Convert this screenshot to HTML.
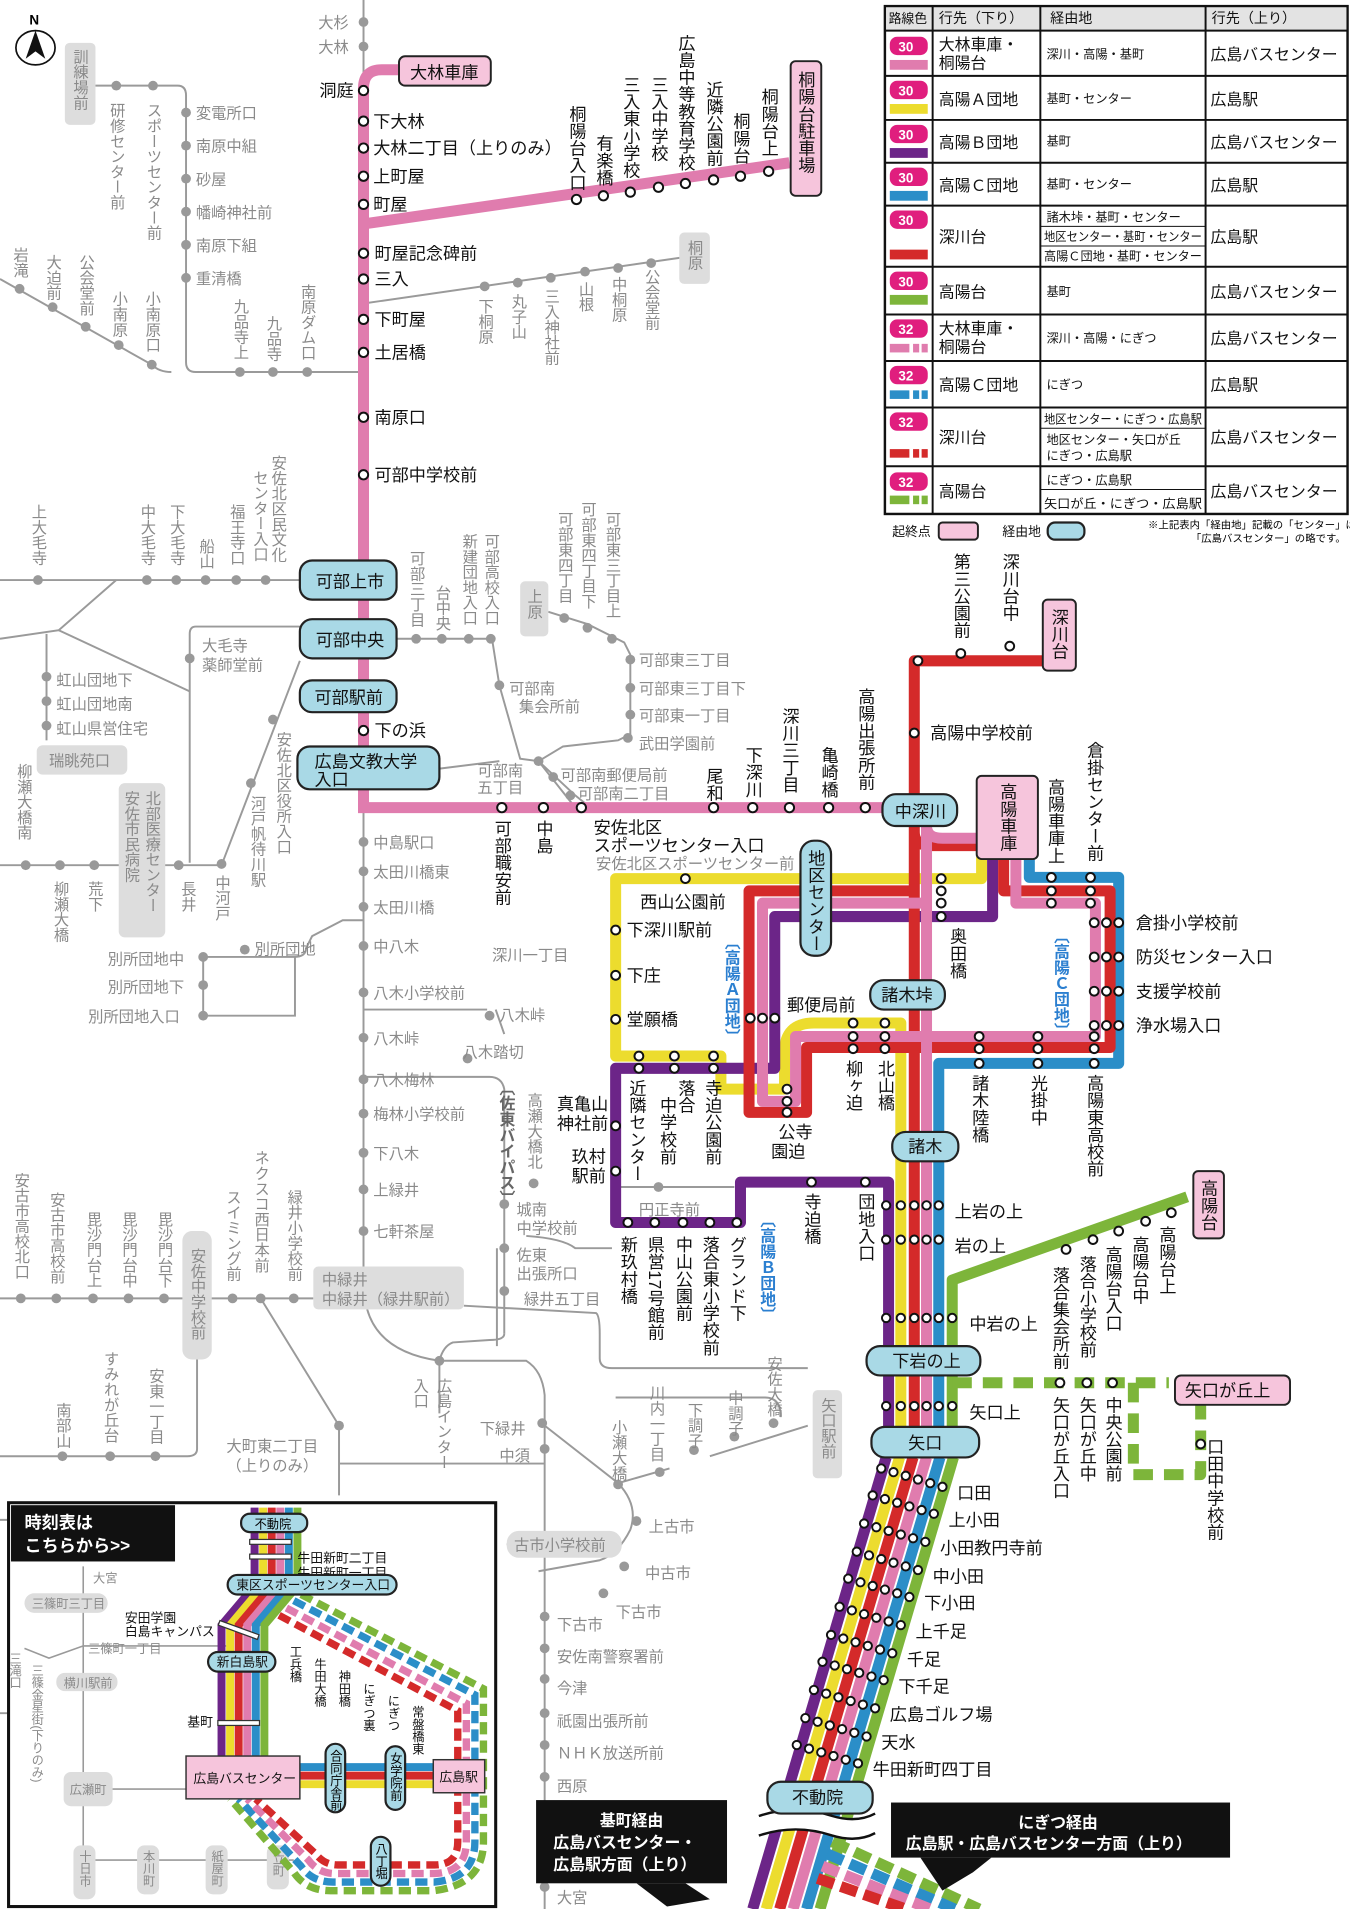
<!DOCTYPE html>
<html><head><meta charset="utf-8">
<style>
html,body{margin:0;padding:0;background:#fff;}
svg{display:block;}
text{font-family:"Liberation Sans","Noto Sans CJK JP",sans-serif;}
.b{font-size:14px;fill:#111;}
.g{font-size:12.5px;fill:#8a8a8a;}
.s{fill:#fff;stroke:#111;stroke-width:1.6;}
.gs{fill:#999;}
.gl{fill:none;stroke:#9a9a9a;stroke-width:1.6;}
.bx{fill:#a9d9e6;stroke:#222;stroke-width:1.8;}
.px{fill:#f6c5dc;stroke:#222;stroke-width:1.6;}
.gx{fill:#ddd;}
.t{font-size:13px;fill:#111;}
.ts{font-size:10.5px;fill:#111;}
.tv{font-size:10px;fill:#111;}
</style></head><body>
<svg width="1350" height="1909" viewBox="0 0 1103 1560" preserveAspectRatio="none" xmlns="http://www.w3.org/2000/svg">
<defs>
<g id="r1"><circle cx="724" cy="0" r="3.4"/><circle cx="736" cy="0" r="3.4"/><circle cx="747" cy="0" r="3.4"/><circle cx="757" cy="0" r="3.4"/><circle cx="767" cy="0" r="3.4"/></g>
<g id="r2"><circle cx="724" cy="0" r="3.4"/><circle cx="736" cy="0" r="3.4"/><circle cx="747" cy="0" r="3.4"/><circle cx="757" cy="0" r="3.4"/><circle cx="767" cy="0" r="3.4"/><circle cx="778" cy="0" r="3.4"/></g>
<g id="r3"><circle cx="0" cy="0" r="3.4"/><circle cx="10" cy="3" r="3.4"/><circle cx="20" cy="6" r="3.4"/><circle cx="30" cy="9" r="3.4"/><circle cx="40" cy="12" r="3.4"/><circle cx="50" cy="15" r="3.4"/></g>
</defs>
<rect width="1103" height="1560" fill="#fff"/>

<!-- North -->
<ellipse cx="29" cy="39" rx="16" ry="14" fill="#fff" stroke="#111" stroke-width="1.4"/>
<path d="M29 25 L37 48 L29 42 L21 48 Z" fill="#111"/>
<text x="24" y="20" style="font-size:11px;font-weight:bold">N</text>

<!-- ======== gray roads ======== -->
<g class="gl">
<path d="M297 0 V60"/>
<path d="M78 70 H145 Q152 70 152 78 V296 Q152 304 160 304 H297"/>
<path d="M0 228 L124 298 Q130 304 140 304"/>
<path d="M297 248 L560 210"/>
<path d="M0 474 H245"/>
<path d="M95 474 L48 515 L0 522"/>
<path d="M48 515 L155 565"/>
<path d="M38 518 V605"/>
<path d="M245 512 H160 Q155 512 155 518 V705"/>
<path d="M0 707 H181 L245 540"/>
<path d="M324 522 H402 L408 560 L425 620 L440 622 L470 660"/>
<path d="M440 622 L460 610 L505 605 L515 600"/>
<path d="M448 500 L480 510 L510 525 L515 535 V605"/>
<path d="M440 622 L470 650 L480 658"/>
<path d="M408 622 L360 628 H297"/>
<path d="M297 660 V1061"/>
<path d="M297 880 H400 Q410 880 412 890 V1090"/>
<path d="M297 825 H398"/>
<path d="M412 845 L405 825"/>
<path d="M166 782 H240 Q250 782 250 775 L255 765 L280 752 H297"/>
<path d="M166 782 V830 H241 V782"/>
<path d="M0 1061 H256"/>
<path d="M161 1111 V1184 Q161 1190 153 1190 H0"/>
<path d="M213 1061 L277 1165 V1222"/>
<path d="M379 1067 L487 1073 Q490 1075 490 1090 V1110 Q490 1118 500 1118 H660"/>
<path d="M412 1090 Q412 1095 400 1095 L370 1097 Q362 1100 359 1112"/>
<path d="M300 1070 Q310 1105 359 1112 L430 1112 Q443 1120 445 1140 V1560"/>
<path d="M359 1112 V1155"/>
<path d="M277 1196 H445"/>
<path d="M445 1165 L505 1212 Q522 1230 515 1250 Q505 1270 490 1275 L440 1284"/>
<path d="M505 1212 L547 1200"/>
<path d="M508 1262 H414"/>
<path d="M580 1190 L660 1165"/>
<path d="M638 1158 Q638 1142 625 1142 H503"/>
<path d="M406 1020 V1100"/>
<path d="M500 970 H600"/>
<path d="M0 1242 H6 M0 1400 H6"/>
<path d="M430 1010 Q460 1012 470 1020 L500 1020"/>
</g>
<g class="gs">
<circle cx="297" cy="18" r="4"/><circle cx="297" cy="38" r="4"/>
<circle cx="95" cy="70" r="4"/><circle cx="125" cy="70" r="4"/>
<circle cx="152" cy="92" r="4"/><circle cx="152" cy="119" r="4"/><circle cx="152" cy="146" r="4"/><circle cx="152" cy="173" r="4"/><circle cx="152" cy="200" r="4"/><circle cx="152" cy="227" r="4"/>
<circle cx="16" cy="236" r="4"/><circle cx="43" cy="251" r="4"/><circle cx="70" cy="267" r="4"/><circle cx="97" cy="282" r="4"/><circle cx="124" cy="298" r="4"/>
<circle cx="196" cy="304" r="4"/><circle cx="223" cy="304" r="4"/><circle cx="251" cy="304" r="4"/>
<circle cx="396" cy="234" r="4"/><circle cx="423" cy="231" r="4"/><circle cx="450" cy="227" r="4"/><circle cx="478" cy="222" r="4"/><circle cx="505" cy="219" r="4"/><circle cx="532" cy="215" r="4"/>
<circle cx="31" cy="474" r="4"/><circle cx="120" cy="474" r="4"/><circle cx="144" cy="474" r="4"/><circle cx="168" cy="474" r="4"/><circle cx="193" cy="474" r="4"/><circle cx="217" cy="474" r="4"/>
<circle cx="38" cy="553" r="4"/><circle cx="38" cy="573" r="4"/><circle cx="38" cy="593" r="4"/>
<circle cx="155" cy="538" r="4"/><circle cx="223" cy="588" r="4"/><circle cx="205" cy="640" r="4"/><circle cx="181" cy="706" r="4"/>
<circle cx="21" cy="707" r="4"/><circle cx="49" cy="707" r="4"/><circle cx="77" cy="707" r="4"/><circle cx="146" cy="707" r="4"/>
<circle cx="340" cy="522" r="4"/><circle cx="361" cy="522" r="4"/><circle cx="383" cy="522" r="4"/><circle cx="401" cy="522" r="4"/>
<circle cx="408" cy="560" r="4"/><circle cx="440" cy="622" r="4"/><circle cx="452" cy="635" r="4"/><circle cx="466" cy="650" r="4"/>
<circle cx="461" cy="505" r="4"/><circle cx="480" cy="513" r="4"/><circle cx="500" cy="522" r="4"/>
<circle cx="515" cy="539" r="4"/><circle cx="515" cy="562" r="4"/><circle cx="515" cy="584" r="4"/><circle cx="513" cy="603" r="4"/>
<circle cx="297" cy="688" r="4"/><circle cx="297" cy="712" r="4"/><circle cx="297" cy="741" r="4"/><circle cx="297" cy="773" r="4"/><circle cx="297" cy="811" r="4"/><circle cx="297" cy="848" r="4"/><circle cx="297" cy="882" r="4"/><circle cx="297" cy="910" r="4"/><circle cx="297" cy="942" r="4"/><circle cx="297" cy="972" r="4"/><circle cx="297" cy="1006" r="4"/>
<circle cx="166" cy="782" r="4"/><circle cx="166" cy="805" r="4"/><circle cx="166" cy="830" r="4"/><circle cx="200" cy="776" r="4"/>
<circle cx="400" cy="830" r="4"/><circle cx="382" cy="865" r="4"/>
<circle cx="412" cy="984" r="4"/><circle cx="412" cy="1020" r="4"/><circle cx="412" cy="1055" r="4"/><circle cx="436" cy="967" r="4"/>
<circle cx="17" cy="1061" r="4"/><circle cx="46" cy="1061" r="4"/><circle cx="76" cy="1061" r="4"/><circle cx="105" cy="1061" r="4"/><circle cx="134" cy="1061" r="4"/><circle cx="190" cy="1061" r="4"/><circle cx="213" cy="1061" r="4"/><circle cx="240" cy="1061" r="4"/>
<circle cx="51" cy="1190" r="4"/><circle cx="90" cy="1190" r="4"/><circle cx="127" cy="1190" r="4"/>
<circle cx="277" cy="1165" r="4"/><circle cx="359" cy="1112" r="4"/>
<circle cx="443" cy="1163" r="4"/><circle cx="445" cy="1184" r="4"/><circle cx="505" cy="1213" r="4"/><circle cx="539" cy="1203" r="4"/>
<circle cx="520" cy="1243" r="4"/><circle cx="510" cy="1280" r="4"/><circle cx="493" cy="1302" r="4"/>
<circle cx="445" cy="1321" r="4"/><circle cx="445" cy="1347" r="4"/><circle cx="445" cy="1372" r="4"/><circle cx="445" cy="1400" r="4"/><circle cx="445" cy="1426" r="4"/><circle cx="445" cy="1452" r="4"/><circle cx="445" cy="1542" r="4"/>
<circle cx="567" cy="1185" r="4"/><circle cx="600" cy="1174" r="4"/><circle cx="632" cy="1163" r="4"/>
<circle cx="538" cy="970" r="4"/>
</g>

<!-- gray labels -->
<g class="g">
<text x="260" y="23">大杉</text><text x="260" y="43">大林</text>
<text x="160" y="97">変電所口</text><text x="160" y="124">南原中組</text><text x="160" y="151">砂屋</text><text x="160" y="178">幡崎神社前</text><text x="160" y="205">南原下組</text><text x="160" y="232">重清橋</text>
<text x="95" y="84" style="writing-mode:vertical-rl">研修センター前</text>
<text x="125" y="84" style="writing-mode:vertical-rl">スポーツセンター前</text>
<text x="16" y="202" style="writing-mode:vertical-rl">岩滝</text>
<text x="43" y="208" style="writing-mode:vertical-rl">大迫前</text>
<text x="70" y="208" style="writing-mode:vertical-rl">公会堂前</text>
<text x="97" y="238" style="writing-mode:vertical-rl">小南原</text>
<text x="124" y="238" style="writing-mode:vertical-rl">小南原口</text>
<text x="196" y="244" style="writing-mode:vertical-rl">九品寺上</text>
<text x="223" y="258" style="writing-mode:vertical-rl">九品寺</text>
<text x="251" y="232" style="writing-mode:vertical-rl">南原ダム口</text>
<text x="396" y="244" style="writing-mode:vertical-rl">下桐原</text>
<text x="423" y="240" style="writing-mode:vertical-rl">丸子山</text>
<text x="450" y="236" style="writing-mode:vertical-rl">三入神社前</text>
<text x="478" y="230" style="writing-mode:vertical-rl">山根</text>
<text x="505" y="226" style="writing-mode:vertical-rl">中桐原</text>
<text x="532" y="220" style="writing-mode:vertical-rl">公会堂前</text>
<text x="31" y="412" style="writing-mode:vertical-rl">上大毛寺</text>
<text x="120" y="412" style="writing-mode:vertical-rl">中大毛寺</text>
<text x="144" y="412" style="writing-mode:vertical-rl">下大毛寺</text>
<text x="168" y="440" style="writing-mode:vertical-rl">船山</text>
<text x="193" y="412" style="writing-mode:vertical-rl">福王寺口</text>
<text x="212" y="384" style="writing-mode:vertical-rl">センター入口</text>
<text x="227" y="372" style="writing-mode:vertical-rl">安佐北区民文化</text>
<text x="340" y="450" style="writing-mode:vertical-rl">可部三丁目</text>
<text x="361" y="478" style="writing-mode:vertical-rl">台中央</text>
<text x="383" y="436" style="writing-mode:vertical-rl">新建団地入口</text>
<text x="401" y="436" style="writing-mode:vertical-rl">可部高校入口</text>
<text x="461" y="418" style="writing-mode:vertical-rl">可部東四丁目</text>
<text x="480" y="410" style="writing-mode:vertical-rl">可部東四丁目下</text>
<text x="500" y="418" style="writing-mode:vertical-rl">可部東三丁目上</text>
<text x="522" y="544">可部東三丁目</text><text x="522" y="567">可部東三丁目下</text><text x="522" y="589">可部東一丁目</text><text x="522" y="612">武田学園前</text>
<text x="416" y="567">可部南</text><text x="424" y="582">集会所前</text>
<text x="390" y="634">可部南</text><text x="390" y="648">五丁目</text>
<text x="458" y="638">可部南郵便局前</text><text x="472" y="653">可部南二丁目</text>
<text x="165" y="532">大毛寺</text><text x="165" y="548">薬師堂前</text>
<text x="46" y="560">虹山団地下</text><text x="46" y="580">虹山団地南</text><text x="46" y="600">虹山県営住宅</text>
<text x="19" y="624" style="writing-mode:vertical-rl">柳瀬大橋南</text>
<text x="49" y="720" style="writing-mode:vertical-rl">柳瀬大橋</text>
<text x="77" y="720" style="writing-mode:vertical-rl">荒下</text>
<text x="153" y="720" style="writing-mode:vertical-rl">長井</text>
<text x="181" y="715" style="writing-mode:vertical-rl">中河戸</text>
<text x="210" y="650" style="writing-mode:vertical-rl">河戸帆待川駅</text>
<text x="231" y="598" style="writing-mode:vertical-rl">安佐北区役所入口</text>
<text x="487" y="710">安佐北区スポーツセンター前</text>
<text x="305" y="693">中島駅口</text><text x="305" y="717">太田川橋東</text><text x="305" y="746">太田川橋</text><text x="305" y="778">中八木</text><text x="305" y="816">八木小学校前</text><text x="305" y="853">八木峠</text><text x="305" y="887">八木梅林</text><text x="305" y="915">梅林小学校前</text><text x="305" y="947">下八木</text><text x="305" y="977">上緑井</text><text x="305" y="1011">七軒茶屋</text>
<text x="402" y="785">深川一丁目</text>
<text x="408" y="834">八木峠</text><text x="378" y="864">八木踏切</text>
<text x="208" y="780">別所団地</text>
<text x="88" y="788">別所団地中</text><text x="88" y="811">別所団地下</text><text x="72" y="835">別所団地入口</text>
<text x="436" y="893" style="writing-mode:vertical-rl">高瀬大橋北</text>
<text x="422" y="993">城南</text><text x="422" y="1008">中学校前</text>
<text x="422" y="1030">佐東</text><text x="422" y="1045">出張所口</text>
<text x="428" y="1066">緑井五丁目</text>
<text x="522" y="993">円正寺前</text>
<text x="17" y="958" style="writing-mode:vertical-rl">安古市高校北口</text>
<text x="46" y="974" style="writing-mode:vertical-rl">安古市高校前</text>
<text x="76" y="990" style="writing-mode:vertical-rl">毘沙門台上</text>
<text x="105" y="990" style="writing-mode:vertical-rl">毘沙門台中</text>
<text x="134" y="990" style="writing-mode:vertical-rl">毘沙門台下</text>
<text x="190" y="972" style="writing-mode:vertical-rl">スイミング前</text>
<text x="213" y="940" style="writing-mode:vertical-rl">ネクスコ西日本前</text>
<text x="240" y="972" style="writing-mode:vertical-rl">緑井小学校前</text>
<text x="51" y="1146" style="writing-mode:vertical-rl">南部山</text>
<text x="90" y="1104" style="writing-mode:vertical-rl">すみれが丘台</text>
<text x="127" y="1118" style="writing-mode:vertical-rl">安東一丁目</text>
<text x="185" y="1186">大町東二丁目</text><text x="185" y="1202">（上りのみ）</text>
<text x="343" y="1126" style="writing-mode:vertical-rl">入口</text>
<text x="362" y="1126" style="writing-mode:vertical-rl">広島インター</text>
<text x="392" y="1172">下緑井</text><text x="408" y="1194">中須</text>
<text x="505" y="1160" style="writing-mode:vertical-rl">小瀬大橋</text>
<text x="536" y="1132" style="writing-mode:vertical-rl">川内一丁目</text>
<text x="567" y="1146" style="writing-mode:vertical-rl">下調子</text>
<text x="600" y="1136" style="writing-mode:vertical-rl">中調子</text>
<text x="632" y="1108" style="writing-mode:vertical-rl">安佐大橋</text>
<text x="530" y="1252">上古市</text><text x="527" y="1290">中古市</text><text x="503" y="1322">下古市</text>
<text x="455" y="1332">下古市</text><text x="455" y="1358">安佐南警察署前</text><text x="455" y="1384">今津</text><text x="455" y="1411">祇園出張所前</text><text x="455" y="1437">ＮＨＫ放送所前</text><text x="455" y="1464">西原</text><text x="455" y="1555">大宮</text>
</g>

<!-- gray boxes -->
<rect x="53" y="35" width="25" height="67" rx="4" class="gx"/>
<text x="65" y="40" class="g" style="writing-mode:vertical-rl">訓練場前</text>
<rect x="555" y="190" width="25" height="42" rx="4" class="gx"/>
<text x="567" y="196" class="g" style="writing-mode:vertical-rl">桐原</text>
<rect x="425" y="475" width="23" height="45" rx="4" class="gx"/>
<text x="436" y="481" class="g" style="writing-mode:vertical-rl">上原</text>
<rect x="30" y="609" width="74" height="24" rx="5" class="gx"/>
<text x="40" y="626" class="g">瑞眺苑口</text>
<rect x="97" y="640" width="38" height="126" rx="5" class="gx"/>
<text x="124" y="646" class="g" style="writing-mode:vertical-rl">北部医療センター</text>
<text x="107" y="646" class="g" style="writing-mode:vertical-rl">安佐市民病院</text>
<rect x="149" y="1006" width="24" height="105" rx="8" class="gx"/>
<text x="161" y="1020" class="g" style="writing-mode:vertical-rl">安佐中学校前</text>
<rect x="256" y="1035" width="123" height="35" rx="4" class="gx"/>
<text x="263" y="1050" class="g">中緑井</text><text x="263" y="1066" class="g">中緑井（緑井駅前）</text>
<rect x="414" y="1251" width="94" height="22" rx="10" class="gx"/>
<text x="420" y="1267" class="g">古市小学校前</text>
<rect x="664" y="1136" width="24" height="72" rx="4" class="gx"/>
<text x="676" y="1142" class="g" style="writing-mode:vertical-rl">矢口駅前</text>

<!-- ======== pink main line ======== -->
<g fill="none" stroke="#e07cae" stroke-width="9">
<path d="M326 57 H312 Q297 57 297 72 V660 H730"/>
<path d="M297 183 L645 133"/>
</g>
<g class="s">
<circle cx="297" cy="74" r="3.8"/><circle cx="297" cy="99" r="3.8"/><circle cx="297" cy="121" r="3.8"/><circle cx="297" cy="144" r="3.8"/><circle cx="297" cy="167" r="3.8"/><circle cx="297" cy="207" r="3.8"/><circle cx="297" cy="228" r="3.8"/><circle cx="297" cy="261" r="3.8"/><circle cx="297" cy="288" r="3.8"/><circle cx="297" cy="341" r="3.8"/><circle cx="297" cy="388" r="3.8"/><circle cx="297" cy="597" r="3.8"/>
<circle cx="471" cy="163" r="3.8"/><circle cx="493" cy="160" r="3.8"/><circle cx="515" cy="157" r="3.8"/><circle cx="538" cy="153" r="3.8"/><circle cx="560" cy="150" r="3.8"/><circle cx="583" cy="147" r="3.8"/><circle cx="605" cy="144" r="3.8"/><circle cx="628" cy="140" r="3.8"/>
<circle cx="410" cy="660" r="3.8"/><circle cx="444" cy="660" r="3.8"/><circle cx="475" cy="660" r="3.8"/><circle cx="583" cy="660" r="3.8"/><circle cx="615" cy="660" r="3.8"/><circle cx="645" cy="660" r="3.8"/><circle cx="677" cy="660" r="3.8"/><circle cx="707" cy="660" r="3.8"/>
</g>
<g class="b">
<text x="261" y="79">洞庭</text>
<text x="305" y="104">下大林</text><text x="305" y="126">大林二丁目（上りのみ）</text><text x="305" y="149">上町屋</text><text x="305" y="172">町屋</text>
<text x="306" y="212">町屋記念碑前</text><text x="306" y="233">三入</text><text x="306" y="266">下町屋</text><text x="306" y="293">土居橋</text><text x="306" y="346">南原口</text><text x="306" y="393">可部中学校前</text><text x="306" y="602">下の浜</text>
<text x="471" y="86" style="writing-mode:vertical-rl">桐陽台入口</text>
<text x="493" y="110" style="writing-mode:vertical-rl">有楽橋</text>
<text x="515" y="62" style="writing-mode:vertical-rl">三入東小学校</text>
<text x="538" y="62" style="writing-mode:vertical-rl">三入中学校</text>
<text x="560" y="28" style="writing-mode:vertical-rl">広島中等教育学校</text>
<text x="583" y="66" style="writing-mode:vertical-rl">近隣公園前</text>
<text x="605" y="92" style="writing-mode:vertical-rl">桐陽台</text>
<text x="628" y="72" style="writing-mode:vertical-rl">桐陽台上</text>
<text x="410" y="670" style="writing-mode:vertical-rl">可部職安前</text>
<text x="444" y="670" style="writing-mode:vertical-rl">中島</text>
<text x="485" y="681">安佐北区</text><text x="485" y="696">スポーツセンター入口</text>
<text x="583" y="627" style="writing-mode:vertical-rl">尾和</text>
<text x="615" y="610" style="writing-mode:vertical-rl">下深川</text>
<text x="645" y="578" style="writing-mode:vertical-rl">深川三丁目</text>
<text x="677" y="610" style="writing-mode:vertical-rl">亀崎橋</text>
<text x="707" y="562" style="writing-mode:vertical-rl">高陽出張所前</text>
</g>
<rect x="326" y="46" width="75" height="24" rx="5" class="px"/>
<text x="335" y="64" class="b">大林車庫</text>
<rect x="646" y="50" width="25" height="110" rx="4" class="px"/>
<text x="658" y="58" class="b" style="writing-mode:vertical-rl">桐陽台駐車場</text>
<rect x="245" y="458" width="79" height="32" rx="10" class="bx"/><text x="258" y="480" class="b">可部上市</text>
<rect x="245" y="506" width="79" height="32" rx="10" class="bx"/><text x="258" y="528" class="b">可部中央</text>
<rect x="245" y="556" width="79" height="26" rx="10" class="bx"/><text x="257" y="575" class="b">可部駅前</text>
<rect x="243" y="610" width="116" height="35" rx="10" class="bx"/><text x="257" y="627" class="b">広島文教大学</text><text x="257" y="642" class="b">入口</text>

<!-- ======== colored routes ======== -->
<g fill="none" stroke-width="9" stroke-linejoin="round">
<path stroke="#ecdc2e" d="M802 700 V718 H503 V863 H589 V890 H641 V860 Q641 836 665 836 H736 V1185"/>
<path stroke="#2b8ec8" d="M841 700 V717 H914 V869 H767 V1185"/>
<path stroke="#6c2588" d="M811 700 V749 H633 V873 H503 V999 H605 V966 H726 V1185"/>
<path stroke="#d42a2a" d="M860 545 V540 H747 V1185 M747 680 Q747 691 760 691 H800 M820 691 V728 H907 V856 H659 V909 H612 V728 H747"/>
<path stroke="#e07cae" d="M730 660 H757 V1185 M757 675 Q757 685 770 685 H800 M830 700 V738 H895 V847 H650 V900 H623 V738 H757"/>
<path stroke="#7db53a" d="M970 978 L778 1046 V1185"/>
<path stroke="#7db53a" stroke-dasharray="16 9" d="M778 1130 H955 M926 1130 V1205 H981 V1142"/>
</g>
<g fill="none" stroke-width="9">
<path stroke="#6c2588" d="M724 1191 L615 1560"/>
<path stroke="#ecdc2e" d="M735 1191 L626 1560"/>
<path stroke="#d42a2a" d="M746 1191 L637 1560"/>
<path stroke="#e07cae" d="M757 1191 L648 1560"/>
<path stroke="#2b8ec8" d="M768 1191 L659 1560"/>
<path stroke="#7db53a" d="M779 1191 L670 1560"/>
</g>
<g fill="none" stroke-width="9" stroke-dasharray="14 6">
<path stroke="#7db53a" d="M680 1505 L800 1560"/>
<path stroke="#2b8ec8" d="M676 1515 L780 1560"/>
<path stroke="#e07cae" d="M672 1525 L760 1560"/>
<path stroke="#d42a2a" d="M668 1535 L740 1560"/>
</g>
<path d="M620 1484 Q650 1474 680 1484 Q700 1490 715 1482 L715 1498 Q700 1506 680 1500 Q650 1490 620 1500 Z" fill="#fff"/>
<path d="M620 1484 Q650 1474 680 1484 Q700 1490 715 1482 M620 1500 Q650 1490 680 1500 Q700 1506 715 1498" fill="none" stroke="#111" stroke-width="2"/>

<g class="s">
<circle cx="750" cy="540" r="3.6"/><circle cx="785" cy="534" r="3.6"/><circle cx="825" cy="528" r="3.6"/>
<circle cx="747" cy="599" r="3.6"/>
<circle cx="560" cy="718" r="3.6"/>
<circle cx="503" cy="760" r="3.6"/><circle cx="503" cy="797" r="3.6"/><circle cx="503" cy="833" r="3.6"/>
<circle cx="769" cy="718" r="3.6"/><circle cx="769" cy="728" r="3.6"/><circle cx="769" cy="738" r="3.6"/><circle cx="769" cy="749" r="3.6"/>
<circle cx="859" cy="717" r="3.6"/><circle cx="859" cy="728" r="3.6"/><circle cx="859" cy="738" r="3.6"/>
<circle cx="891" cy="717" r="3.6"/><circle cx="891" cy="728" r="3.6"/><circle cx="891" cy="738" r="3.6"/>
<circle cx="894" cy="754" r="3.6"/><circle cx="904" cy="754" r="3.6"/><circle cx="914" cy="754" r="3.6"/>
<circle cx="894" cy="782" r="3.6"/><circle cx="904" cy="782" r="3.6"/><circle cx="914" cy="782" r="3.6"/>
<circle cx="894" cy="810" r="3.6"/><circle cx="904" cy="810" r="3.6"/><circle cx="914" cy="810" r="3.6"/>
<circle cx="894" cy="838" r="3.6"/><circle cx="904" cy="838" r="3.6"/><circle cx="914" cy="838" r="3.6"/>
<circle cx="613" cy="832" r="3.6"/><circle cx="623" cy="832" r="3.6"/><circle cx="633" cy="832" r="3.6"/>
<circle cx="697" cy="836" r="3.6"/><circle cx="697" cy="847" r="3.6"/><circle cx="697" cy="857" r="3.6"/>
<circle cx="723" cy="836" r="3.6"/><circle cx="723" cy="847" r="3.6"/><circle cx="723" cy="857" r="3.6"/>
<circle cx="800" cy="847" r="3.6"/><circle cx="800" cy="857" r="3.6"/><circle cx="800" cy="869" r="3.6"/>
<circle cx="848" cy="847" r="3.6"/><circle cx="848" cy="857" r="3.6"/><circle cx="848" cy="869" r="3.6"/>
<circle cx="894" cy="847" r="3.6"/><circle cx="894" cy="857" r="3.6"/><circle cx="894" cy="869" r="3.6"/>
<circle cx="522" cy="863" r="3.6"/><circle cx="522" cy="873" r="3.6"/><circle cx="551" cy="863" r="3.6"/><circle cx="551" cy="873" r="3.6"/><circle cx="583" cy="863" r="3.6"/><circle cx="583" cy="873" r="3.6"/>
<circle cx="643" cy="890" r="3.6"/><circle cx="643" cy="900" r="3.6"/><circle cx="643" cy="909" r="3.6"/>
<circle cx="503" cy="920" r="3.6"/><circle cx="503" cy="957" r="3.6"/>
<circle cx="513" cy="999" r="3.6"/><circle cx="535" cy="999" r="3.6"/><circle cx="558" cy="999" r="3.6"/><circle cx="580" cy="999" r="3.6"/><circle cx="602" cy="999" r="3.6"/>
<circle cx="663" cy="966" r="3.6"/><circle cx="707" cy="966" r="3.6"/>
<circle cx="871" cy="1021" r="3.6"/><circle cx="893" cy="1013" r="3.6"/><circle cx="914" cy="1006" r="3.6"/><circle cx="936" cy="998" r="3.6"/><circle cx="957" cy="991" r="3.6"/>
<circle cx="866" cy="1130" r="3.6"/><circle cx="888" cy="1130" r="3.6"/><circle cx="909" cy="1130" r="3.6"/><circle cx="981" cy="1180" r="3.6"/>
<use href="#r1" y="985"/><use href="#r1" y="1013"/>
<use href="#r2" y="1077"/><use href="#r2" y="1149"/>
<use href="#r3" x="720" y="1200"/><use href="#r3" x="713" y="1222"/><use href="#r3" x="706" y="1245"/><use href="#r3" x="700" y="1268"/><use href="#r3" x="693" y="1290"/><use href="#r3" x="686" y="1313"/><use href="#r3" x="679" y="1336"/><use href="#r3" x="672" y="1358"/><use href="#r3" x="665" y="1381"/><use href="#r3" x="658" y="1404"/><use href="#r3" x="651" y="1426"/>
</g>

<g class="b">
<text x="785" y="452" style="writing-mode:vertical-rl">第三公園前</text>
<text x="825" y="452" style="writing-mode:vertical-rl">深川台中</text>
<text x="760" y="604">高陽中学校前</text>
<text x="523" y="742">西山公園前</text>
<text x="512" y="765">下深川駅前</text><text x="512" y="802">下庄</text><text x="512" y="838">堂願橋</text>
<text x="643" y="826">郵便局前</text>
<text x="782" y="758" style="writing-mode:vertical-rl">奥田橋</text>
<text x="862" y="636" style="writing-mode:vertical-rl">高陽車庫上</text>
<text x="894" y="606" style="writing-mode:vertical-rl">倉掛センター前</text>
<text x="928" y="759">倉掛小学校前</text><text x="928" y="787">防災センター入口</text><text x="928" y="815">支援学校前</text><text x="928" y="843">浄水場入口</text>
<text x="697" y="866" style="writing-mode:vertical-rl">柳ヶ迫</text>
<text x="723" y="866" style="writing-mode:vertical-rl">北山橋</text>
<text x="800" y="878" style="writing-mode:vertical-rl">諸木陸橋</text>
<text x="848" y="878" style="writing-mode:vertical-rl">光掛中</text>
<text x="894" y="878" style="writing-mode:vertical-rl">高陽東高校前</text>
<text x="636" y="930">公寺</text><text x="630" y="946">園迫</text>
<text x="520" y="882" style="writing-mode:vertical-rl">近隣センター</text>
<text x="545" y="896" style="writing-mode:vertical-rl">中学校前</text>
<text x="560" y="882" style="writing-mode:vertical-rl">落合</text>
<text x="582" y="882" style="writing-mode:vertical-rl">寺迫公園前</text>
<text x="455" y="907">真亀山</text><text x="455" y="923">神社前</text>
<text x="467" y="950">玖村</text><text x="467" y="966">駅前</text>
<text x="513" y="1010" style="writing-mode:vertical-rl">新玖村橋</text>
<text x="535" y="1010" style="writing-mode:vertical-rl">県営17号館前</text>
<text x="558" y="1010" style="writing-mode:vertical-rl">中山公園前</text>
<text x="580" y="1010" style="writing-mode:vertical-rl">落合東小学校前</text>
<text x="602" y="1010" style="writing-mode:vertical-rl">グランド下</text>
<text x="663" y="975" style="writing-mode:vertical-rl">寺迫橋</text>
<text x="707" y="975" style="writing-mode:vertical-rl">団地入口</text>
<text x="780" y="995">上岩の上</text><text x="780" y="1023">岩の上</text><text x="792" y="1087">中岩の上</text><text x="792" y="1159">矢口上</text>
<text x="866" y="1035" style="writing-mode:vertical-rl">落合集会所前</text>
<text x="888" y="1026" style="writing-mode:vertical-rl">落合小学校前</text>
<text x="909" y="1018" style="writing-mode:vertical-rl">高陽台入口</text>
<text x="931" y="1010" style="writing-mode:vertical-rl">高陽台中</text>
<text x="953" y="1002" style="writing-mode:vertical-rl">高陽台上</text>
<text x="866" y="1141" style="writing-mode:vertical-rl">矢口が丘入口</text>
<text x="888" y="1141" style="writing-mode:vertical-rl">矢口が丘中</text>
<text x="909" y="1141" style="writing-mode:vertical-rl">中央公園前</text>
<text x="992" y="1175" style="writing-mode:vertical-rl">口田中学校前</text>
<text x="782" y="1225">口田</text><text x="775" y="1247">上小田</text><text x="768" y="1270">小田教円寺前</text><text x="762" y="1293">中小田</text><text x="755" y="1315">下小田</text><text x="748" y="1338">上千足</text><text x="741" y="1361">千足</text><text x="734" y="1383">下千足</text><text x="727" y="1406">広島ゴルフ場</text><text x="720" y="1429">天水</text><text x="713" y="1451">牛田新町四丁目</text>
</g>
<g style="font-size:13px;font-weight:bold;fill:#2b7fd0">
<text x="597" y="763" style="writing-mode:vertical-rl">〔高陽Ａ団地〕</text>
<text x="866" y="758" style="writing-mode:vertical-rl">〔高陽Ｃ団地〕</text>
<text x="626" y="990" style="writing-mode:vertical-rl">〔高陽Ｂ団地〕</text>
<text x="413" y="882" style="writing-mode:vertical-rl;fill:#666">〔佐東バイパス〕</text>
</g>

<rect x="852" y="490" width="27" height="58" rx="4" class="px"/><text x="865" y="497" class="b" style="writing-mode:vertical-rl">深川台</text>
<rect x="798" y="634" width="50" height="68" rx="4" class="px"/><text x="823" y="640" class="b" style="writing-mode:vertical-rl">高陽車庫</text>
<rect x="721" y="649" width="61" height="26" rx="11" class="bx"/><text x="731" y="668" class="b">中深川</text>
<rect x="654" y="687" width="25" height="94" rx="11" class="bx"/><text x="666" y="694" class="b" style="writing-mode:vertical-rl">地区センター</text>
<rect x="711" y="801" width="61" height="24" rx="11" class="bx"/><text x="720" y="818" class="b">諸木垰</text>
<rect x="729" y="925" width="54" height="24" rx="11" class="bx"/><text x="742" y="942" class="b">諸木</text>
<rect x="975" y="957" width="25" height="55" rx="4" class="px"/><text x="987" y="964" class="b" style="writing-mode:vertical-rl">高陽台</text>
<rect x="708" y="1100" width="93" height="24" rx="11" class="bx"/><text x="729" y="1117" class="b">下岩の上</text>
<rect x="960" y="1124" width="94" height="24" rx="5" class="px"/><text x="968" y="1141" class="b">矢口が丘上</text>
<rect x="712" y="1166" width="88" height="25" rx="11" class="bx"/><text x="742" y="1184" class="b">矢口</text>
<rect x="627" y="1456" width="86" height="26" rx="11" class="bx"/><text x="647" y="1474" class="b">不動院</text>

<rect x="438" y="1471" width="156" height="68" fill="#111"/>
<text x="490" y="1492" style="font-size:13px;font-weight:bold;fill:#fff">基町経由</text>
<text x="452" y="1510" style="font-size:13px;font-weight:bold;fill:#fff">広島バスセンター・</text>
<text x="452" y="1528" style="font-size:13px;font-weight:bold;fill:#fff">広島駅方面（上り）</text>
<path d="M520 1539 H560 L580 1552 L545 1558 Z" fill="#111"/>
<rect x="728" y="1473" width="277" height="45" fill="#111"/>
<text x="832" y="1494" style="font-size:13px;font-weight:bold;fill:#fff">にぎつ経由</text>
<text x="740" y="1511" style="font-size:13px;font-weight:bold;fill:#fff">広島駅・広島バスセンター方面（上り）</text>
<path d="M752 1518 H810 L795 1530 L770 1545 Z" fill="#111"/>

<!-- ======== inset ======== -->
<rect x="7" y="1228" width="398" height="330" fill="#fff" stroke="#111" stroke-width="2.5"/>
<rect x="9" y="1230" width="134" height="46" fill="#111"/>
<text x="20" y="1249" style="font-size:14px;font-weight:bold;fill:#fff">時刻表は</text>
<text x="20" y="1268" style="font-size:14px;font-weight:bold;fill:#fff">こちらから&gt;&gt;</text>
<g class="gl" style="stroke-width:1.3">
<path d="M68 1280 V1530 M68 1520 H240 M68 1462 H152 M20 1347 L40 1355 L68 1345 H190"/>
</g>
<g class="g" style="font-size:10px">
<text x="76" y="1293">大宮</text><text x="72" y="1351">三篠町一丁目</text>
<text x="12" y="1350" style="writing-mode:vertical-rl">三滝口</text>
<text x="30" y="1360" style="writing-mode:vertical-rl">三篠金星街(下りのみ)</text>
</g>
<rect x="20" y="1302" width="68" height="16" rx="8" class="gx"/><text x="26" y="1314" class="g" style="font-size:10px">三篠町三丁目</text>
<rect x="46" y="1367" width="50" height="15" rx="7" class="gx"/><text x="52" y="1379" class="g" style="font-size:10px">横川駅前</text>
<rect x="52" y="1448" width="40" height="28" rx="6" class="gx"/><text x="57" y="1466" class="g" style="font-size:10px">広瀬町</text>
<rect x="60" y="1508" width="18" height="44" rx="6" class="gx"/><text x="69" y="1512" class="g" style="font-size:10px;writing-mode:vertical-rl">十日市</text>
<rect x="112" y="1508" width="18" height="40" rx="6" class="gx"/><text x="121" y="1512" class="g" style="font-size:10px;writing-mode:vertical-rl">本川町</text>
<rect x="168" y="1508" width="18" height="40" rx="6" class="gx"/><text x="177" y="1512" class="g" style="font-size:10px;writing-mode:vertical-rl">紙屋町</text>
<rect x="218" y="1508" width="18" height="36" rx="6" class="gx"/><text x="227" y="1514" class="g" style="font-size:10px;writing-mode:vertical-rl">立町</text>
<g fill="none" stroke-width="6.5">
<path stroke="#6c2588" d="M208 1232 V1296 L181 1328 V1440"/>
<path stroke="#ecdc2e" d="M215 1232 V1296 L188 1328 V1440"/>
<path stroke="#d42a2a" d="M222 1232 V1296 L195 1328 V1440"/>
<path stroke="#e07cae" d="M229 1232 V1296 L202 1328 V1440"/>
<path stroke="#2b8ec8" d="M236 1232 V1296 L209 1328 V1440"/>
<path stroke="#7db53a" d="M243 1232 V1296 L216 1328 V1440"/>
<path stroke="#2b8ec8" d="M245 1444 H360"/>
<path stroke="#d42a2a" d="M245 1451 H360"/>
<path stroke="#ecdc2e" d="M245 1458 H360"/>
</g>
<g fill="none" stroke-width="6" stroke-dasharray="10 5">
<path stroke="#7db53a" d="M246 1303 L395 1380 V1505 Q395 1540 355 1545 H270 Q250 1545 240 1530 L188 1470"/>
<path stroke="#2b8ec8" d="M240 1308 L388 1385 V1505 Q388 1535 355 1538 H272 Q255 1538 246 1525 L195 1470"/>
<path stroke="#e07cae" d="M234 1314 L381 1392 V1505 Q381 1530 355 1531 H274 Q260 1531 252 1520 L202 1470"/>
<path stroke="#d42a2a" d="M228 1320 L374 1398 V1505 Q374 1524 355 1524 H276 Q265 1524 258 1515 L209 1470"/>
</g>
<rect x="197" y="1237" width="54" height="15" rx="7" class="bx"/><text x="208" y="1249" style="font-size:10px">不動院</text>
<rect x="204" y="1258" width="34" height="4" fill="#fff" stroke="#333"/><rect x="204" y="1270" width="34" height="4" fill="#fff" stroke="#333"/>
<text x="243" y="1277" class="ts">牛田新町二丁目</text><text x="243" y="1289" class="ts">牛田新町一丁目</text>
<rect x="186" y="1287" width="138" height="16" rx="8" class="bx"/><text x="193" y="1299" class="ts">東区スポーツセンター入口</text>
<text x="102" y="1326" class="ts">安田学園</text><text x="102" y="1337" class="ts">白島キャンパス</text>
<rect x="178" y="1330" width="34" height="4" fill="#fff" stroke="#333" transform="rotate(20 195 1332)"/>
<rect x="170" y="1350" width="55" height="16" rx="8" class="bx"/><text x="177" y="1362" class="ts">新白島駅</text>
<text x="153" y="1411" class="ts">基町</text><rect x="178" y="1406" width="34" height="4" fill="#fff" stroke="#333"/>
<g class="ts">
<text x="241" y="1345" style="writing-mode:vertical-rl;font-size:10px">工兵橋</text>
<text x="261" y="1355" style="writing-mode:vertical-rl;font-size:10px">牛田大橋</text>
<text x="281" y="1365" style="writing-mode:vertical-rl;font-size:10px">神田橋</text>
<text x="301" y="1375" style="writing-mode:vertical-rl;font-size:10px">にぎつ裏</text>
<text x="321" y="1385" style="writing-mode:vertical-rl;font-size:10px">にぎつ</text>
<text x="341" y="1394" style="writing-mode:vertical-rl;font-size:10px">常盤橋東</text>
</g>
<rect x="152" y="1435" width="93" height="35" fill="#f6c5dc" stroke="#333" stroke-width="1.2"/><text x="158" y="1457" class="ts">広島バスセンター</text>
<rect x="354" y="1438" width="42" height="27" fill="#f6c5dc" stroke="#333" stroke-width="1.2"/><text x="359" y="1456" class="ts">広島駅</text>
<rect x="266" y="1425" width="16" height="56" rx="8" class="bx"/><text x="274" y="1430" style="writing-mode:vertical-rl;font-size:10px">合同庁舎前</text>
<rect x="315" y="1427" width="16" height="52" rx="8" class="bx"/><text x="323" y="1432" style="writing-mode:vertical-rl;font-size:10px">女学院前</text>
<rect x="303" y="1501" width="16" height="40" rx="8" class="bx"/><text x="311" y="1506" style="writing-mode:vertical-rl;font-size:10px">八丁堀</text>

<!-- ======== table ======== -->
<g>
<rect x="723" y="5" width="378" height="415" fill="#fff" stroke="#111" stroke-width="2"/>
<rect x="724" y="6" width="376" height="19" fill="#e3e3e3"/>
<g stroke="#111" stroke-width="1.6">
<line x1="762" y1="5" x2="762" y2="420"/><line x1="850" y1="5" x2="850" y2="420"/><line x1="985" y1="5" x2="985" y2="420"/>
<line x1="723" y1="25" x2="1101" y2="25"/><line x1="723" y1="62" x2="1101" y2="62"/><line x1="723" y1="98" x2="1101" y2="98"/><line x1="723" y1="133" x2="1101" y2="133"/><line x1="723" y1="168" x2="1101" y2="168"/><line x1="723" y1="218" x2="1101" y2="218"/><line x1="723" y1="257" x2="1101" y2="257"/><line x1="723" y1="295" x2="1101" y2="295"/><line x1="723" y1="333" x2="1101" y2="333"/><line x1="723" y1="381" x2="1101" y2="381"/>
</g>
<g stroke="#111" stroke-width="0.8">
<line x1="850" y1="185" x2="985" y2="185"/><line x1="850" y1="201" x2="985" y2="201"/><line x1="850" y1="350" x2="985" y2="350"/><line x1="850" y1="400" x2="985" y2="400"/>
</g>
<g class="ts"><text x="726" y="19">路線色</text><text x="767" y="19" style="font-size:11.5px">行先（下り）</text><text x="858" y="19" style="font-size:11.5px">経由地</text><text x="990" y="19" style="font-size:11.5px">行先（上り）</text></g>
<g style="font-size:11px;font-weight:bold;fill:#fff">
<rect x="727" y="30" width="31" height="15" rx="6" fill="#e01e7e"/><text x="734" y="42">30</text>
<rect x="727" y="66" width="31" height="15" rx="6" fill="#e01e7e"/><text x="734" y="78">30</text>
<rect x="727" y="102" width="31" height="15" rx="6" fill="#e01e7e"/><text x="734" y="114">30</text>
<rect x="727" y="137" width="31" height="15" rx="6" fill="#e01e7e"/><text x="734" y="149">30</text>
<rect x="727" y="172" width="31" height="15" rx="6" fill="#e01e7e"/><text x="734" y="184">30</text>
<rect x="727" y="222" width="31" height="15" rx="6" fill="#e01e7e"/><text x="734" y="234">30</text>
<rect x="727" y="261" width="31" height="15" rx="6" fill="#e01e7e"/><text x="734" y="273">32</text>
<rect x="727" y="299" width="31" height="15" rx="6" fill="#e01e7e"/><text x="734" y="311">32</text>
<rect x="727" y="337" width="31" height="15" rx="6" fill="#e01e7e"/><text x="734" y="349">32</text>
<rect x="727" y="386" width="31" height="15" rx="6" fill="#e01e7e"/><text x="734" y="398">32</text>
</g>
<rect x="727" y="49" width="31" height="8" fill="#e07cae"/>
<rect x="727" y="85" width="31" height="8" fill="#ecdc2e"/>
<rect x="727" y="121" width="31" height="8" fill="#6c2588"/>
<rect x="727" y="156" width="31" height="8" fill="#2b8ec8"/>
<rect x="727" y="204" width="31" height="8" fill="#d42a2a"/>
<rect x="727" y="241" width="31" height="8" fill="#7db53a"/>
<g fill="#e07cae"><rect x="727" y="281" width="16" height="7"/><rect x="746" y="281" width="5" height="7"/><rect x="753" y="281" width="5" height="7"/></g>
<g fill="#2b8ec8"><rect x="727" y="319" width="16" height="7"/><rect x="746" y="319" width="5" height="7"/><rect x="753" y="319" width="5" height="7"/></g>
<g fill="#d42a2a"><rect x="727" y="367" width="16" height="7"/><rect x="746" y="367" width="5" height="7"/><rect x="753" y="367" width="5" height="7"/></g>
<g fill="#7db53a"><rect x="727" y="405" width="16" height="7"/><rect x="746" y="405" width="5" height="7"/><rect x="753" y="405" width="5" height="7"/></g>
<g class="t">
<text x="767" y="41">大林車庫・</text><text x="767" y="56">桐陽台</text>
<text x="767" y="86">高陽Ａ団地</text><text x="767" y="121">高陽Ｂ団地</text><text x="767" y="156">高陽Ｃ団地</text>
<text x="767" y="198">深川台</text><text x="767" y="243">高陽台</text>
<text x="767" y="273">大林車庫・</text><text x="767" y="288">桐陽台</text>
<text x="767" y="319">高陽Ｃ団地</text><text x="767" y="362">深川台</text><text x="767" y="406">高陽台</text>
<text x="989" y="49">広島バスセンター</text><text x="989" y="86">広島駅</text><text x="989" y="121">広島バスセンター</text><text x="989" y="156">広島駅</text><text x="989" y="198">広島駅</text><text x="989" y="243">広島バスセンター</text><text x="989" y="281">広島バスセンター</text><text x="989" y="319">広島駅</text><text x="989" y="362">広島バスセンター</text><text x="989" y="406">広島バスセンター</text>
</g>
<g class="tv">
<text x="855" y="48">深川・高陽・基町</text><text x="855" y="84">基町・センター</text><text x="855" y="119">基町</text><text x="855" y="154">基町・センター</text>
<text x="855" y="181">諸木垰・基町・センター</text><text x="853" y="197" textLength="129" lengthAdjust="spacingAndGlyphs">地区センター・基町・センター</text><text x="853" y="213" textLength="129" lengthAdjust="spacingAndGlyphs">高陽Ｃ団地・基町・センター</text>
<text x="855" y="242">基町</text><text x="855" y="280">深川・高陽・にぎつ</text><text x="855" y="318">にぎつ</text>
<text x="853" y="346" textLength="129" lengthAdjust="spacingAndGlyphs">地区センター・にぎつ・広島駅</text><text x="855" y="363">地区センター・矢口が丘</text><text x="855" y="376">にぎつ・広島駅</text>
<text x="855" y="396">にぎつ・広島駅</text><text x="853" y="415" textLength="129" lengthAdjust="spacingAndGlyphs">矢口が丘・にぎつ・広島駅</text>
</g>
<text x="729" y="438" class="ts">起終点</text><rect x="767" y="427" width="32" height="14" rx="3" class="px"/>
<text x="819" y="438" class="ts">経由地</text><rect x="856" y="427" width="30" height="14" rx="6" class="bx"/>
<text x="938" y="432" style="font-size:8.5px">※上記表内「経由地」記載の「センター」は</text>
<text x="973" y="443" style="font-size:8.5px">「広島バスセンター」の略です。</text>
</g>
</svg>
</body></html>
